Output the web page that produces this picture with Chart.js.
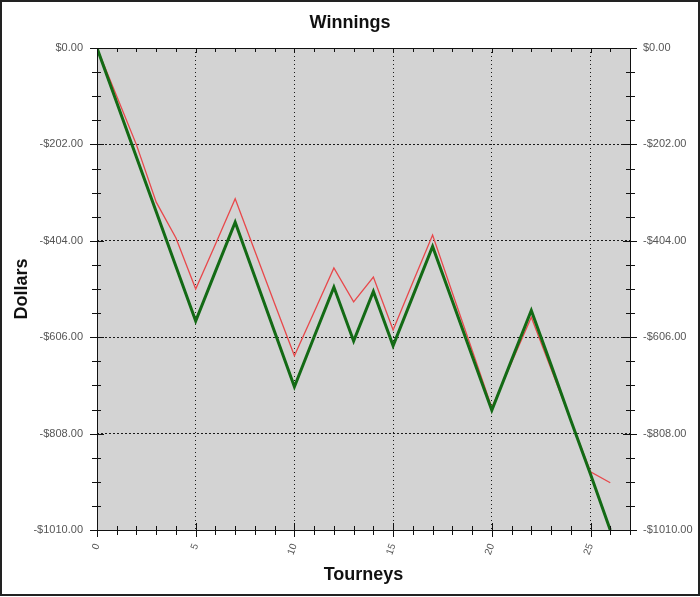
<!DOCTYPE html>
<html>
<head>
<meta charset="utf-8">
<script src="https://cdn.jsdelivr.net/npm/chart.js@4/dist/chart.umd.min.js"></script>
<style>
  html, body { margin: 0; padding: 0; background: #fff; }
  canvas { display: block; }
</style>
</head>
<body>
<canvas id="winningsChart" width="700" height="597"></canvas>
<script>
// Data
const tourneys = [0,1,2,3,4,5,6,7,8,9,10,11,12,13,14,15,16,17,18,19,20,21,22,23,24,25,26];
const winningsGreen = [0,-114,-229,-343,-458,-572,-468,-365,-480,-595,-710,-605,-501,-614,-510,-624,-520,-416,-530,-645,-759,-654,-550,-664,-780,-893,-1010];
const winningsRed = [0,-101,-203,-323,-398,-505,-411,-316,-426,-536,-645,-553,-461,-532,-480,-591,-491,-392,-513,-633,-754,-659,-564,-672,-780,-888,-911];
const xTicks = [0,5,10,15,20,25];
const yTicks = [0,-202,-404,-606,-808,-1010];
const xMax = 27;

function dollars(v) {
    return (v < 0 ? '-$' : '$') + Math.abs(v).toFixed(2);
}

// grey plot area, frame, minor ticks and outer border
const frame = {
    id: 'frame',
    beforeDraw(chart) {
        const { ctx, chartArea: a } = chart;
        ctx.save();
        ctx.fillStyle = '#d3d3d3';
        ctx.fillRect(a.left, a.top, a.right - a.left, a.bottom - a.top);
        ctx.restore();
    },
    afterDraw(chart) {
        const { ctx, chartArea: a } = chart;
        const x = chart.scales.x, y = chart.scales.y;
        ctx.save();
        ctx.strokeStyle = '#111';
        ctx.lineWidth = 1;
        ctx.strokeRect(Math.round(a.left) + 0.5, Math.round(a.top) + 0.5,
            Math.round(a.right - a.left), Math.round(a.bottom - a.top));

        ctx.beginPath();
        for (let v = 0; v <= xMax; v++) {
            const px = Math.round(x.getPixelForValue(v)) + 0.5;
            const major = xTicks.includes(v);
            ctx.moveTo(px, a.bottom - (major ? 7 : 4));
            ctx.lineTo(px, a.bottom + (major ? 7 : 5));
            ctx.moveTo(px, a.top);
            ctx.lineTo(px, a.top + (major ? 5 : 4));
        }
        const step = 202 / 4;
        for (let i = 0; i <= 20; i++) {
            const py = Math.round(y.getPixelForValue(-i * step)) + 0.5;
            const major = i % 4 === 0;
            ctx.moveTo(a.left - (major ? 7 : 5), py);
            ctx.lineTo(a.left + (major ? 7 : 4), py);
            ctx.moveTo(a.right - (major ? 7 : 4), py);
            ctx.lineTo(a.right + (major ? 7 : 5), py);
        }
        ctx.stroke();

        ctx.strokeStyle = '#222';
        ctx.lineWidth = 2;
        ctx.strokeRect(1, 1, chart.width - 2, chart.height - 3);
        ctx.restore();
    }
};

const sans = '"Liberation Sans", Arial, sans-serif';
const tickFont = { family: sans, size: 11 };
const titleFont = { family: sans, size: 18, weight: 'bold', lineHeight: 1.2 };

new Chart(document.getElementById('winningsChart'), {
    type: 'line',
    data: {
        labels: tourneys,
        datasets: [{
            data: tourneys.map((t, i) => ({ x: t, y: winningsGreen[i] })),
            borderColor: '#136a15',
            borderWidth: 3,
            pointRadius: 0,
            tension: 0,
            borderJoinStyle: 'miter'
        }, {
            data: tourneys.map((t, i) => ({ x: t, y: winningsRed[i] })),
            borderColor: '#e8484b',
            borderWidth: 1.3,
            pointRadius: 0,
            tension: 0,
            borderJoinStyle: 'miter'
        }]
    },
    options: {
        responsive: false,
        animation: false,
        layout: { padding: 0 },
        plugins: {
            legend: { display: false },
            tooltip: { enabled: false },
            title: {
                display: true,
                text: 'Winnings',
                color: '#111',
                font: titleFont,
                padding: { top: 12, bottom: 14.4 }
            }
        },
        scales: {
            x: {
                type: 'linear',
                min: 0,
                max: xMax,
                afterBuildTicks: s => { s.ticks = xTicks.map(v => ({ value: v })); },
                afterFit: s => { s.height = 67; },
                border: { display: false, dash: [1, 3] },
                grid: { color: '#1a1a1a', lineWidth: 1, drawTicks: false },
                ticks: {
                    color: '#555',
                    font: { family: sans, size: 10 },
                    minRotation: 70,
                    maxRotation: 70,
                    padding: 12
                },
                title: {
                    display: true,
                    text: 'Tourneys',
                    color: '#111',
                    font: titleFont,
                    padding: { top: 0, bottom: 11 }
                }
            },
            y: {
                position: 'left',
                min: -1010,
                max: 0,
                afterBuildTicks: s => { s.ticks = yTicks.map(v => ({ value: v })); },
                afterFit: s => { s.width = 97; },
                border: { display: false, dash: [2, 2] },
                grid: { color: '#1a1a1a', lineWidth: 1, drawTicks: false },
                ticks: { color: '#555', font: tickFont, padding: 14, callback: dollars },
                title: {
                    display: true,
                    text: 'Dollars',
                    color: '#111',
                    font: titleFont,
                    padding: { top: 11, bottom: 0 }
                }
            },
            y2: {
                position: 'right',
                min: -1010,
                max: 0,
                afterBuildTicks: s => { s.ticks = yTicks.map(v => ({ value: v })); },
                afterFit: s => { s.width = 70; },
                border: { display: false },
                grid: { drawOnChartArea: false, drawTicks: false },
                ticks: { color: '#555', font: tickFont, padding: 13, callback: dollars }
            }
        }
    },
    plugins: [frame]
});
</script>
</body>
</html>
